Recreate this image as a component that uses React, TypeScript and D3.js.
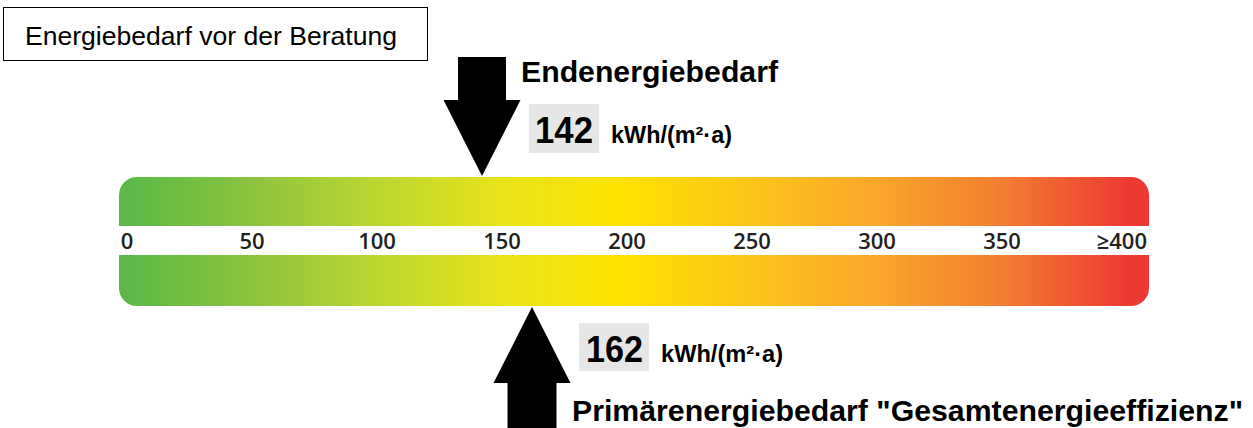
import React from "react";
import * as d3 from "d3";

// scale values on the bar
const tickValues = [0, 50, 100, 150, 200, 250, 300, 350, 400];
const tickLabels = ["0", "50", "100", "150", "200", "250", "300", "350", "≥400"];

// colour ramp along the bar
const rampValues = [0, 50, 100, 150, 200, 250, 300, 350, 400];
const rampColors = [
  "#5bb848",
  "#8cc43f",
  "#bcd631",
  "#e8e41b",
  "#ffe100",
  "#fcc51a",
  "#f9a72a",
  "#f27e31",
  "#ec3a32",
];

const title = "Energiebedarf vor der Beratung";
const endLabel = "Endenergiebedarf";
const endValue = 142;
const primLabel = 'Primärenergiebedarf "Gesamtenergieeffizienz"';
const primValue = 162;
const unit = "kWh/(m²·a)";

const width = 1253;
const height = 428;

const x = d3.scaleLinear().domain([0, 400]).range([127, 1127]);

const barLeft = x(0) - 8;
const barRight = x(400) + 22;
const barTop = 177;
const barBottom = 306;
const gapTop = 226;
const gapBottom = 255;

const font = "'Liberation Sans', Arial, sans-serif";

const downArrow = (ax: number) => {
  let p = d3.path();
  p.moveTo(ax - 24, 57);
  p.lineTo(ax + 24, 57);
  p.lineTo(ax + 24, 100);
  p.lineTo(ax + 38.5, 100);
  p.lineTo(ax, 176);
  p.lineTo(ax - 38.5, 100);
  p.lineTo(ax - 24, 100);
  p.closePath();
  return p.toString();
};

const upArrow = (ax: number) => {
  let p = d3.path();
  p.moveTo(ax, 307);
  p.lineTo(ax + 38.5, 383);
  p.lineTo(ax + 24.5, 383);
  p.lineTo(ax + 24.5, 432);
  p.lineTo(ax - 24.5, 432);
  p.lineTo(ax - 24.5, 383);
  p.lineTo(ax - 38.5, 383);
  p.closePath();
  return p.toString();
};

const App = () => {
  let ea = x(endValue);
  let pa = x(primValue);
  let span = barRight - barLeft;

  return (
    <svg
      width={width}
      height={height}
      style={{ position: "absolute", left: 0, top: 0, background: "#fff" }}
    >
      <defs>
        <linearGradient id="ramp" x1="0" x2="1" y1="0" y2="0">
          {rampValues.map((v, i) => (
            <stop
              key={v}
              offset={Math.min(1, Math.max(0, (x(v) - barLeft) / span))}
              stopColor={rampColors[i]}
            />
          ))}
        </linearGradient>
      </defs>

      <rect x={3.5} y={7.5} width={424} height={53} fill="#fff" stroke="#000" strokeWidth={1} />
      <text x={25} y={45} fontFamily={font} fontSize={25} fill="#000" textLength={372} lengthAdjust="spacingAndGlyphs">
        {title}
      </text>

      <rect
        x={barLeft}
        y={barTop}
        width={span}
        height={barBottom - barTop}
        rx={18}
        fill="url(#ramp)"
      />
      <rect x={barLeft - 2} y={gapTop} width={span + 4} height={gapBottom - gapTop} fill="#fff" />

      {tickValues.map((v, i) => {
        let last = i === tickValues.length - 1;
        return (
          <text
            key={v}
            x={last ? x(v) + 20 : x(v)}
            y={249}
            textAnchor={last ? "end" : "middle"}
            fontFamily="'Open Sans', sans-serif"
            fontWeight={600}
            fontSize={22}
            fill="#231f20"
          >
            {tickLabels[i]}
          </text>
        );
      })}

      {/* Endenergie */}
      <path d={downArrow(ea)} fill="#000" />
      <text x={ea + 39} y={82} fontFamily={font} fontWeight="bold" fontSize={29} textLength={257} lengthAdjust="spacingAndGlyphs">
        {endLabel}
      </text>
      <rect x={ea + 47} y={104} width={70} height={49} fill="#e6e6e6" />
      <text x={ea + 53} y={143} fontFamily={font} fontWeight="bold" fontSize={37} textLength={58} lengthAdjust="spacingAndGlyphs">
        {endValue}
      </text>
      <text x={ea + 129} y={143} fontFamily={font} fontWeight="bold" fontSize={23} textLength={121} lengthAdjust="spacingAndGlyphs">
        {unit}
      </text>

      {/* Primärenergie */}
      <path d={upArrow(pa)} fill="#000" />
      <rect x={pa + 47} y={323} width={70} height={48} fill="#e6e6e6" />
      <text x={pa + 54} y={362} fontFamily={font} fontWeight="bold" fontSize={37} textLength={57} lengthAdjust="spacingAndGlyphs">
        {primValue}
      </text>
      <text x={pa + 129} y={362} fontFamily={font} fontWeight="bold" fontSize={23} textLength={122} lengthAdjust="spacingAndGlyphs">
        {unit}
      </text>
      <text x={pa + 40} y={421} fontFamily={font} fontWeight="bold" fontSize={30} textLength={671} lengthAdjust="spacingAndGlyphs">
        {primLabel}
      </text>
    </svg>
  );
};

export default App;
